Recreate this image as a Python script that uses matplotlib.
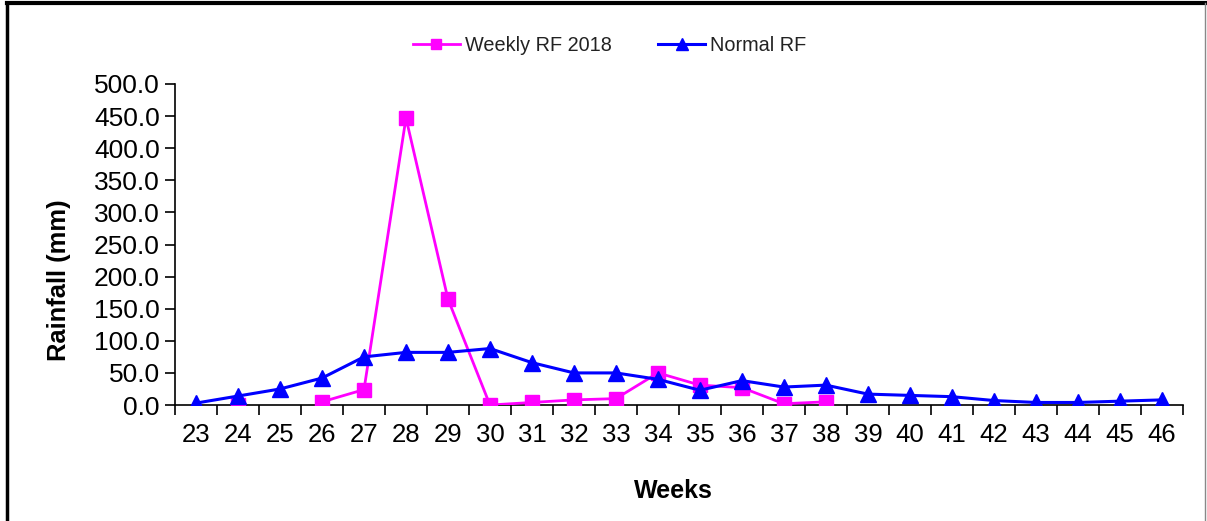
import numpy as np
import matplotlib
matplotlib.use("Agg")
import matplotlib.pyplot as plt
from matplotlib.lines import Line2D

weeks = [str(w) for w in range(23, 47)]
weekly_rf_2018 = [np.nan, 0.5, np.nan, 5.0, 24.0, 447.0, 165.0, 0.0, 4.0, 8.0, 10.0, 50.0,
                  31.0, 27.0, 2.0, 5.0, np.nan, np.nan, np.nan, np.nan, np.nan, np.nan, np.nan, np.nan]
normal_rf = [3.0, 14.0, 25.0, 42.0, 75.0, 82.0, 82.0, 88.0, 66.0, 50.0, 50.0, 40.0,
             23.0, 38.0, 28.0, 31.0, 17.0, 15.0, 13.0, 7.0, 4.0, 4.0, 6.0, 8.0]
y_ticks = [0, 50, 100, 150, 200, 250, 300, 350, 400, 450, 500]

plt.rcParams['font.family'] = ['Liberation Sans', 'DejaVu Sans']

fig = plt.figure(figsize=(12.07, 5.21), dpi=100)
ax = fig.add_axes([0.145, 0.2226, 0.835, 0.6162])

x = np.arange(len(weeks))
mag = '#FF00FF'
blu = '#0000FF'
ax.plot(x, weekly_rf_2018, color=mag, lw=2, marker='s', ms=10.5, mfc=mag, mec=mag,
        label='Weekly RF 2018', zorder=3)
ax.plot(x, normal_rf, color=blu, lw=2.2, marker='^', ms=11, mfc=blu, mec=blu,
        label='Normal RF', zorder=4)

ax.set_xlim(-0.5, len(weeks) - 0.5)
ax.set_ylim(0, 500)
ax.set_yticks(y_ticks)
ax.set_yticklabels([f"{v:.1f}" for v in y_ticks], fontsize=19)
ax.set_xticks(x)
ax.set_xticklabels(weeks, fontsize=18.5)
ax.set_xticks(np.arange(-0.5, len(weeks) + 0.5, 1), minor=True)
ax.tick_params(axis='x', which='major', length=0, pad=13)
ax.tick_params(axis='x', which='minor', length=7, width=1.2, direction='out')
ax.tick_params(axis='y', which='major', length=7, width=1.2, direction='out', pad=4)

for s in ['top', 'right']:
    ax.spines[s].set_visible(False)
for s in ['left', 'bottom']:
    ax.spines[s].set_linewidth(1.2)

ax.set_ylabel('Rainfall (mm)', fontsize=18.4, fontweight='bold')
ax.yaxis.set_label_coords(-0.103, 0.39)
ax.set_xlabel('Weeks', fontsize=18, fontweight='bold')
ax.xaxis.set_label_coords(0.495, -0.2305)

leg = fig.legend(handles=[
    Line2D([], [], color=mag, lw=2, marker='s', ms=7.5, mfc=mag, mec=mag),
    Line2D([], [], color=blu, lw=2.2, marker='^', ms=8, mfc=blu, mec=blu)],
    labels=['Weekly RF 2018', 'Normal RF'],
    loc='center', bbox_to_anchor=(0.505, 0.913), ncol=2, frameon=False,
    fontsize=14.3, handlelength=2.4, columnspacing=2.3, handletextpad=0.25)
for t in leg.get_texts():
    t.set_color('#222222')

# outer frame
fig.add_artist(Line2D([0.006, 0.006], [0, 0.995], transform=fig.transFigure, color='black', lw=2.5))
fig.add_artist(Line2D([0.006, 1.0], [0.995, 0.995], transform=fig.transFigure, color='black', lw=3))
fig.add_artist(Line2D([0.9985, 0.9985], [0, 0.995], transform=fig.transFigure, color='#888888', lw=1))

fig.savefig('out.png', dpi=100, facecolor='white')
